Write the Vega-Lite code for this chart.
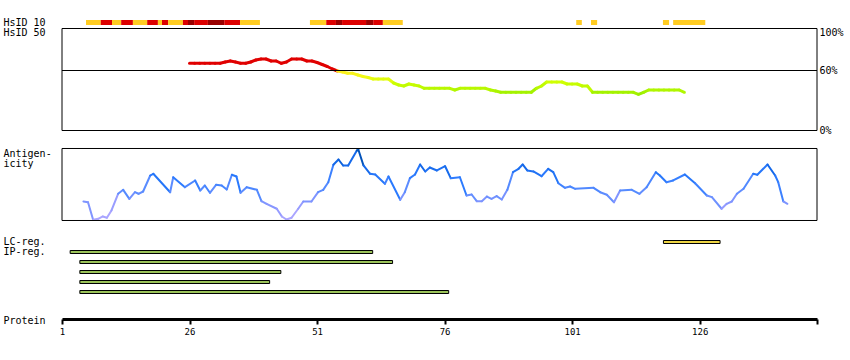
{
  "$schema": "https://vega.github.io/schema/vega-lite/v6.json",
  "width": 755,
  "height": 319,
  "autosize": {"type": "none"},
  "padding": {"left": 62, "top": 0, "right": 33, "bottom": 41},
  "background": "white",
  "config": {
    "view": {"stroke": null},
    "axis": {"grid": false, "labelColor": "black", "titleColor": "black", "labelFont": "DejaVu Sans Mono", "titleFont": "DejaVu Sans Mono", "titleFontWeight": "normal"}
  },
  "datasets": {
    "strip": [
      {"track": "HsID 10", "start": 5.7, "end": 8.6, "level": "y"},
      {"track": "HsID 10", "start": 8.6, "end": 10.8, "level": "r"},
      {"track": "HsID 10", "start": 10.8, "end": 12.6, "level": "y"},
      {"track": "HsID 10", "start": 12.6, "end": 14.9, "level": "r"},
      {"track": "HsID 10", "start": 14.9, "end": 17.7, "level": "y"},
      {"track": "HsID 10", "start": 17.7, "end": 19.8, "level": "r"},
      {"track": "HsID 10", "start": 19.8, "end": 20.6, "level": "y"},
      {"track": "HsID 10", "start": 20.6, "end": 21.8, "level": "r"},
      {"track": "HsID 10", "start": 21.8, "end": 24.7, "level": "y"},
      {"track": "HsID 10", "start": 24.7, "end": 25.7, "level": "r"},
      {"track": "HsID 10", "start": 25.7, "end": 26.9, "level": "d"},
      {"track": "HsID 10", "start": 26.9, "end": 29.6, "level": "r"},
      {"track": "HsID 10", "start": 29.6, "end": 32.8, "level": "d"},
      {"track": "HsID 10", "start": 32.8, "end": 35.9, "level": "r"},
      {"track": "HsID 10", "start": 35.9, "end": 39.8, "level": "y"},
      {"track": "HsID 10", "start": 49.6, "end": 52.8, "level": "y"},
      {"track": "HsID 10", "start": 52.8, "end": 54.7, "level": "r"},
      {"track": "HsID 10", "start": 54.7, "end": 55.9, "level": "d"},
      {"track": "HsID 10", "start": 55.9, "end": 60.6, "level": "r"},
      {"track": "HsID 10", "start": 60.6, "end": 62.0, "level": "d"},
      {"track": "HsID 10", "start": 62.0, "end": 63.9, "level": "r"},
      {"track": "HsID 10", "start": 63.9, "end": 67.8, "level": "y"},
      {"track": "HsID 10", "start": 101.8, "end": 102.9, "level": "y"},
      {"track": "HsID 10", "start": 104.7, "end": 105.9, "level": "y"},
      {"track": "HsID 10", "start": 118.8, "end": 120.0, "level": "y"},
      {"track": "HsID 10", "start": 120.8, "end": 127.1, "level": "y"}
    ],
    "hsid": [
      {"r": 26, "v": 67.2}, {"r": 27, "v": 67.2}, {"r": 28, "v": 67.2}, {"r": 29, "v": 67.2}, {"r": 30, "v": 67.2},
      {"r": 31, "v": 67.2}, {"r": 32, "v": 67.2}, {"r": 33, "v": 68.5}, {"r": 34, "v": 69.5}, {"r": 35, "v": 68.5},
      {"r": 36, "v": 67.2}, {"r": 37, "v": 67.2}, {"r": 38, "v": 68.5}, {"r": 39, "v": 70.5}, {"r": 40, "v": 71.5},
      {"r": 41, "v": 71.5}, {"r": 42, "v": 69.5}, {"r": 43, "v": 69.5}, {"r": 44, "v": 67.2}, {"r": 45, "v": 68.5},
      {"r": 46, "v": 71.5}, {"r": 47, "v": 71.5}, {"r": 48, "v": 71.5}, {"r": 49, "v": 69.5}, {"r": 50, "v": 69.5},
      {"r": 51, "v": 68.0}, {"r": 52, "v": 66.0}, {"r": 53, "v": 64.0}, {"r": 54, "v": 61.5}, {"r": 55, "v": 59.5},
      {"r": 56, "v": 58.5}, {"r": 57, "v": 57.2}, {"r": 58, "v": 57.2}, {"r": 59, "v": 55.5}, {"r": 60, "v": 54.0},
      {"r": 61, "v": 53.0}, {"r": 62, "v": 51.5}, {"r": 63, "v": 51.5}, {"r": 64, "v": 51.5}, {"r": 65, "v": 51.5},
      {"r": 66, "v": 47.5}, {"r": 67, "v": 45.5}, {"r": 68, "v": 44.5}, {"r": 69, "v": 46.5}, {"r": 70, "v": 45.5},
      {"r": 71, "v": 44.5}, {"r": 72, "v": 42.2}, {"r": 73, "v": 42.2}, {"r": 74, "v": 42.2}, {"r": 75, "v": 42.2},
      {"r": 76, "v": 42.2}, {"r": 77, "v": 42.2}, {"r": 78, "v": 40.5}, {"r": 79, "v": 42.2}, {"r": 80, "v": 42.2},
      {"r": 81, "v": 42.2}, {"r": 82, "v": 42.2}, {"r": 83, "v": 42.2}, {"r": 84, "v": 42.2}, {"r": 85, "v": 40.5},
      {"r": 86, "v": 39.5}, {"r": 87, "v": 38.2}, {"r": 88, "v": 38.2}, {"r": 89, "v": 38.2}, {"r": 90, "v": 38.2},
      {"r": 91, "v": 38.2}, {"r": 92, "v": 38.2}, {"r": 93, "v": 38.2}, {"r": 94, "v": 42.2}, {"r": 95, "v": 44.5},
      {"r": 96, "v": 48.5}, {"r": 97, "v": 48.5}, {"r": 98, "v": 48.5}, {"r": 99, "v": 48.5}, {"r": 100, "v": 46.5},
      {"r": 101, "v": 46.5}, {"r": 102, "v": 46.5}, {"r": 103, "v": 44.5}, {"r": 104, "v": 44.5}, {"r": 105, "v": 38.2},
      {"r": 106, "v": 38.2}, {"r": 107, "v": 38.2}, {"r": 108, "v": 38.2}, {"r": 109, "v": 38.2}, {"r": 110, "v": 38.2},
      {"r": 111, "v": 38.2}, {"r": 112, "v": 38.2}, {"r": 113, "v": 38.2}, {"r": 114, "v": 36.2}, {"r": 115, "v": 38.2},
      {"r": 116, "v": 40.5}, {"r": 117, "v": 40.5}, {"r": 118, "v": 40.5}, {"r": 119, "v": 40.5}, {"r": 120, "v": 40.5},
      {"r": 121, "v": 40.5}, {"r": 122, "v": 40.5}, {"r": 123, "v": 38.2}
    ],
    "antig": [
      {"r": 5.2, "v": 26.4}, {"r": 6.1, "v": 25.4}, {"r": 7.1, "v": 1.0}, {"r": 8.1, "v": 2.4}, {"r": 9.0, "v": 5.6},
      {"r": 9.8, "v": 3.8}, {"r": 10.7, "v": 13.9}, {"r": 12.0, "v": 37.1}, {"r": 13.0, "v": 42.6}, {"r": 14.2, "v": 30.1},
      {"r": 15.3, "v": 39.3}, {"r": 16.0, "v": 37.1}, {"r": 16.9, "v": 40.3}, {"r": 18.3, "v": 62.5}, {"r": 18.9, "v": 64.9},
      {"r": 22.2, "v": 39.3}, {"r": 22.8, "v": 60.1}, {"r": 25.1, "v": 46.3}, {"r": 27.1, "v": 55.6}, {"r": 28.1, "v": 41.7},
      {"r": 29.0, "v": 48.6}, {"r": 30.0, "v": 38.5}, {"r": 31.2, "v": 49.6}, {"r": 32.3, "v": 48.6}, {"r": 33.3, "v": 43.1},
      {"r": 34.3, "v": 63.5}, {"r": 35.2, "v": 61.1}, {"r": 36.0, "v": 38.5}, {"r": 37.2, "v": 46.3}, {"r": 39.2, "v": 42.6},
      {"r": 40.1, "v": 26.8}, {"r": 41.1, "v": 23.2}, {"r": 43.1, "v": 16.3}, {"r": 44.1, "v": 5.6}, {"r": 45.0, "v": 1.4},
      {"r": 46.0, "v": 3.8}, {"r": 47.3, "v": 16.3}, {"r": 48.3, "v": 26.4}, {"r": 49.9, "v": 26.4}, {"r": 51.2, "v": 39.3},
      {"r": 52.2, "v": 42.6}, {"r": 53.2, "v": 53.2}, {"r": 54.2, "v": 77.4}, {"r": 55.2, "v": 84.7}, {"r": 56.1, "v": 76.4},
      {"r": 57.1, "v": 76.4}, {"r": 58.8, "v": 97.2}, {"r": 59.1, "v": 98.2}, {"r": 60.1, "v": 76.4}, {"r": 61.4, "v": 64.9},
      {"r": 62.4, "v": 63.9}, {"r": 64.3, "v": 51.0}, {"r": 65.0, "v": 61.1}, {"r": 67.3, "v": 28.8}, {"r": 68.2, "v": 39.3},
      {"r": 69.2, "v": 58.8}, {"r": 70.2, "v": 63.9}, {"r": 71.2, "v": 77.8}, {"r": 72.2, "v": 68.1}, {"r": 73.1, "v": 73.6},
      {"r": 74.5, "v": 69.5}, {"r": 76.1, "v": 75.4}, {"r": 77.2, "v": 58.8}, {"r": 79.0, "v": 60.1}, {"r": 80.3, "v": 34.7},
      {"r": 81.3, "v": 36.1}, {"r": 82.3, "v": 26.8}, {"r": 83.3, "v": 26.8}, {"r": 84.3, "v": 33.3}, {"r": 85.2, "v": 30.1},
      {"r": 86.2, "v": 33.8}, {"r": 87.2, "v": 29.2}, {"r": 88.3, "v": 42.6}, {"r": 89.4, "v": 67.1}, {"r": 90.5, "v": 71.8},
      {"r": 91.3, "v": 77.8}, {"r": 92.2, "v": 69.5}, {"r": 93.4, "v": 68.1}, {"r": 95.0, "v": 61.5}, {"r": 96.3, "v": 71.8},
      {"r": 97.3, "v": 67.1}, {"r": 98.3, "v": 51.8}, {"r": 99.6, "v": 45.4}, {"r": 100.6, "v": 47.2}, {"r": 101.6, "v": 44.0},
      {"r": 105.2, "v": 45.4}, {"r": 106.5, "v": 39.3}, {"r": 107.8, "v": 35.7}, {"r": 109.2, "v": 25.4}, {"r": 110.4, "v": 41.7},
      {"r": 112.7, "v": 42.6}, {"r": 114.2, "v": 37.1}, {"r": 115.6, "v": 46.3}, {"r": 117.4, "v": 67.1}, {"r": 118.2, "v": 62.5},
      {"r": 119.5, "v": 53.2}, {"r": 120.8, "v": 55.6}, {"r": 123.1, "v": 63.9}, {"r": 125.1, "v": 51.8}, {"r": 127.4, "v": 34.7},
      {"r": 128.4, "v": 32.4}, {"r": 130.3, "v": 16.3}, {"r": 131.3, "v": 23.2}, {"r": 132.3, "v": 26.4}, {"r": 133.3, "v": 37.1},
      {"r": 134.6, "v": 44.0}, {"r": 136.5, "v": 64.9}, {"r": 137.3, "v": 63.5}, {"r": 139.3, "v": 77.8}, {"r": 140.8, "v": 62.5},
      {"r": 141.4, "v": 53.2}, {"r": 142.4, "v": 26.4}, {"r": 143.2, "v": 23.2}
    ],
    "bars": [
      {"row": "LC", "type": "LC", "start": 118.9, "end": 130.0},
      {"row": "IP1", "type": "IP", "start": 2.6, "end": 61.9},
      {"row": "IP2", "type": "IP", "start": 4.5, "end": 65.8},
      {"row": "IP3", "type": "IP", "start": 4.5, "end": 43.9},
      {"row": "IP4", "type": "IP", "start": 4.5, "end": 41.7},
      {"row": "IP5", "type": "IP", "start": 4.5, "end": 76.8}
    ]
  },
  "layer": [
    {
      "data": {"name": "strip"},
      "mark": {"type": "rect"},
      "encoding": {
        "x": {"field": "start", "type": "quantitative", "scale": {"domain": [1, 149], "nice": false, "zero": false},
          "axis": {"orient": "bottom", "values": [1, 26, 51, 76, 101, 126, 149], "labelExpr": "datum.value == 149 ? '' : datum.label",
            "title": "Protein", "titleAngle": 0, "titleAlign": "left", "titleBaseline": "middle", "titleX": -59, "titleY": 1, "titleFontSize": 10,
            "domainWidth": 3, "domainColor": "black", "tickColor": "black", "tickWidth": 2, "tickSize": 5,
            "labelFontSize": 9, "labelPadding": 3, "labelFlush": false, "labelOverlap": false}},
        "x2": {"field": "end"},
        "y": {"field": "track", "type": "nominal", "scale": {"domain": ["HsID 10", "HsID 50"], "range": [20, 35], "paddingInner": 0.5, "paddingOuter": 0},
          "axis": {"orient": "left", "title": null, "domain": false, "ticks": false, "tickSize": 0, "labelAlign": "left", "labelBaseline": "middle", "labelPadding": 59, "labelFontSize": 10}},
        "color": {"field": "level", "type": "nominal", "scale": {"domain": ["y", "r", "d"], "range": ["#FFCC22", "#DD0000", "#990000"]}, "legend": null}
      }
    },
    {
      "layer": [
        {
          "data": {"name": "hsid"},
          "transform": [
            {"window": [{"op": "lead", "field": "r", "as": "r2"}, {"op": "lead", "field": "v", "as": "v2"}], "sort": [{"field": "r", "order": "ascending"}]},
            {"filter": "datum.r2 != null"}
          ],
          "mark": {"type": "rule", "strokeWidth": 3, "strokeCap": "round"},
          "encoding": {
            "x": {"field": "r", "type": "quantitative", "scale": {"domain": [1, 149], "nice": false, "zero": false}},
            "x2": {"field": "r2"},
            "y": {"field": "v", "type": "quantitative", "scale": {"domain": [-188.5, 130.5], "nice": false, "zero": false},
              "axis": {"orient": "right", "title": null, "values": [0, 60, 100], "labelExpr": "datum.value + '%'", "domain": false, "ticks": false, "tickSize": 0,
                "labelPadding": 2, "labelFontSize": 10, "labelAlign": "left", "labelBaseline": "middle",
                "labelOffset": {"condition": {"test": "datum.value == 100", "value": 2}, "value": 0}}},
            "y2": {"field": "v2"},
            "color": {"field": "v", "type": "quantitative",
              "scale": {"domain": [36, 42, 48, 54, 59.9, 60.1, 80], "range": ["#99EE00", "#B8F800", "#CCFF00", "#F0FA14", "#FFEE22", "#E00000", "#E00000"], "interpolate": "rgb"},
              "legend": null}
          }
        },
        {
          "data": {"values": [{}]},
          "mark": {"type": "rect", "fillOpacity": 0, "stroke": "black", "strokeWidth": 1},
          "encoding": {
            "x": {"datum": 1, "type": "quantitative"},
            "x2": {"datum": 149},
            "y": {"datum": 0, "type": "quantitative"},
            "y2": {"datum": 102}
          }
        },
        {
          "data": {"values": [{}]},
          "mark": {"type": "rule", "stroke": "black", "strokeWidth": 1},
          "encoding": {
            "x": {"datum": 1, "type": "quantitative"},
            "x2": {"datum": 149},
            "y": {"datum": 60, "type": "quantitative"}
          }
        }
      ]
    },
    {
      "layer": [
        {
          "data": {"name": "antig"},
          "transform": [
            {"window": [{"op": "lead", "field": "r", "as": "r2"}, {"op": "lead", "field": "v", "as": "v2"}], "sort": [{"field": "r", "order": "ascending"}]},
            {"filter": "datum.r2 != null"}
          ],
          "mark": {"type": "rule", "strokeWidth": 2, "strokeCap": "round"},
          "encoding": {
            "x": {"field": "r", "type": "quantitative", "scale": {"domain": [1, 149], "nice": false, "zero": false}},
            "x2": {"field": "r2"},
            "y": {"field": "v", "type": "quantitative", "scale": {"domain": [-136.81, 306.25], "nice": false, "zero": false},
              "axis": {"orient": "left", "labels": false, "domain": false, "ticks": false, "tickSize": 0,
                "title": ["Antigen-", "icity"], "titleAngle": 0, "titleAlign": "left", "titleBaseline": "top", "titleX": -59, "titleY": 148,
                "titleFontSize": 10, "titleLineHeight": 10}},
            "y2": {"field": "v2"},
            "color": {"field": "v", "type": "quantitative",
              "scale": {"domain": [0, 20, 40, 60, 80, 100], "range": ["#B0A8FF", "#8F98FF", "#5A8CFF", "#2C7BFF", "#1166E6", "#0050B4"], "interpolate": "rgb"},
              "legend": null}
          }
        },
        {
          "data": {"values": [{}]},
          "mark": {"type": "rect", "fillOpacity": 0, "stroke": "black", "strokeWidth": 1},
          "encoding": {
            "x": {"datum": 1, "type": "quantitative"},
            "x2": {"datum": 149},
            "y": {"datum": 0, "type": "quantitative"},
            "y2": {"datum": 100}
          }
        }
      ]
    },
    {
      "data": {"name": "bars"},
      "mark": {"type": "rect", "stroke": "black", "strokeWidth": 1},
      "encoding": {
        "x": {"field": "start", "type": "quantitative"},
        "x2": {"field": "end"},
        "y": {"field": "row", "type": "nominal", "scale": {"domain": ["LC", "IP1", "IP2", "IP3", "IP4", "IP5"], "range": [237, 297], "paddingInner": 0.7, "paddingOuter": 0.35},
          "axis": {"orient": "left", "title": null, "domain": false, "ticks": false, "tickSize": 0, "labelAlign": "left", "labelBaseline": "middle", "labelPadding": 59, "labelFontSize": 10,
            "labelExpr": "datum.value == 'LC' ? 'LC-reg.' : datum.value == 'IP1' ? 'IP-reg.' : ''"}},
        "color": {"field": "type", "type": "nominal", "scale": {"domain": ["LC", "IP"], "range": ["#EED545", "#9BC35A"]}, "legend": null}
      }
    }
  ],
  "resolve": {"scale": {"y": "independent", "color": "independent"}, "axis": {"y": "independent"}, "legend": {"color": "independent"}}
}
